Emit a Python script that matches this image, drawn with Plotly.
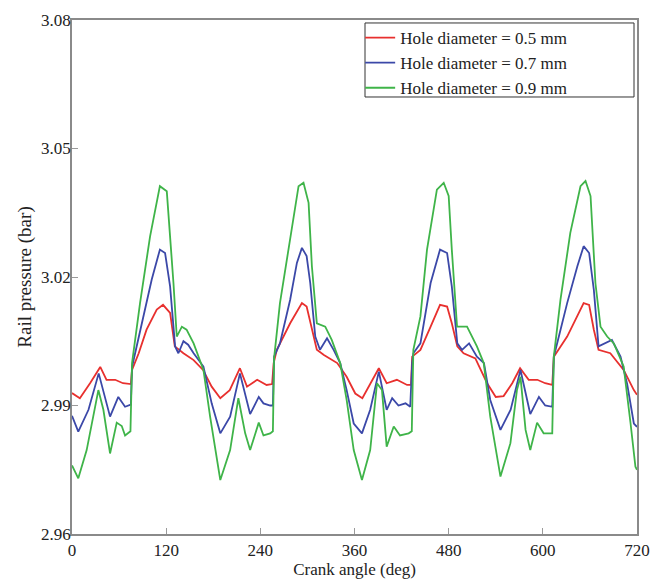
import plotly.graph_objects as go

# ---- data ----
x_05 = [0, 10, 23, 36, 44, 55, 65, 75, 76.5, 85, 95, 108, 116, 125, 131, 142, 155, 167, 178, 189,
        201, 214, 223, 236, 248, 255, 257, 261, 278, 293, 299, 306, 312, 321, 338, 350, 361, 370,
        380, 391, 401, 414, 427, 432, 433.5, 444, 457, 469, 478, 484, 491, 499, 514, 529, 540, 550,
        561, 571, 582, 593, 603, 612, 614, 631, 652, 659, 665, 671, 686, 703, 716, 720]
y_05 = [2.9929, 2.9917, 2.9952, 2.9990, 2.9960, 2.9960, 2.9952, 2.9950, 2.9983, 3.0022, 3.0077,
        3.0124, 3.0135, 3.0116, 3.0038, 3.0022, 3.0006, 2.9983, 2.9944, 2.9917, 2.9936, 2.9987,
        2.9944, 2.9960, 2.9948, 2.9950, 2.9999, 3.0030, 3.0092, 3.0139, 3.0131, 3.0077, 3.0030,
        3.0018, 2.9999, 2.9967, 2.9928, 2.9917, 2.9952, 2.9987, 2.9952, 2.9960, 2.9948, 2.9948,
        3.0014, 3.0030, 3.0084, 3.0135, 3.0131, 3.0092, 3.0038, 3.0022, 3.0010, 2.9952, 2.9920,
        2.9922, 2.9952, 2.9987, 2.9960, 2.9960, 2.9952, 2.9948, 3.0014, 3.0061, 3.0139, 3.0135,
        3.0077, 3.0030, 3.0022, 2.9983, 2.9936, 2.9925]

x_07 = [0, 8, 21, 34, 48.5, 59, 67.6, 75, 76.5, 91, 101.6, 112, 118.6, 125, 131.4, 135.6, 142, 148,
        155, 167.5, 178, 189, 201.5, 214, 227, 238, 244, 252.6, 256, 257.5, 265, 278, 286.6, 293,
        299, 303.6, 310, 316, 325, 333.4, 341.8, 350, 359, 369.5, 380, 391, 401, 408, 416, 425, 431,
        433.5, 435, 444, 452, 457, 469, 478, 484, 491, 497, 506, 516, 525, 533, 546, 559, 571.5, 584,
        595, 603, 612, 614, 631, 644, 652, 659, 665, 671, 680, 688, 699, 707.5, 716, 720]
y_07 = [2.9876, 2.9839, 2.9890, 2.9975, 2.9874, 2.9920, 2.9897, 2.9902, 2.9990, 3.0108, 3.0194,
        3.0264, 3.0256, 3.0178, 3.0038, 3.0022, 3.0050, 3.0042, 3.0022, 2.9991, 2.9905, 2.9835,
        2.9874, 2.9975, 2.9880, 2.9920, 2.9905, 2.9900, 2.9900, 3.0014, 3.0045, 3.0147, 3.0233,
        3.0268, 3.0249, 3.0186, 3.0061, 3.0030, 3.0057, 3.0030, 2.9999, 2.9936, 2.9858, 2.9835,
        2.9890, 2.9979, 2.9890, 2.9917, 2.9900, 2.9905, 2.9897, 3.0000, 3.0022, 3.0045, 3.0131,
        3.0186, 3.0264, 3.0256, 3.0178, 3.0045, 3.0030, 3.0045, 3.0014, 2.9999, 2.9913, 2.9843,
        2.9890, 2.9983, 2.9880, 2.9920, 2.9900, 2.9897, 3.0014, 3.0139, 3.0225, 3.0272, 3.0256,
        3.0170, 3.0038, 3.0045, 3.0053, 3.0014, 2.9950, 2.9858, 2.9850]

x_09 = [0, 8, 18.7, 27, 33.6, 40, 48.5, 57, 63.4, 67.6, 74.5, 76.5, 86.7, 99.5, 112, 120.8, 125,
        129.3, 133.5, 140, 146, 155, 167.5, 176, 189, 201.5, 212, 220.7, 227, 238, 244, 252.6, 256,
        257.5, 265, 278, 288.7, 295, 301.5, 305.7, 312, 322.7, 331, 341.8, 350, 359, 369.5, 380,
        388.7, 395, 401, 410, 418, 429, 433, 435, 444, 452.4, 465, 473.7, 480, 484, 490.7, 503.4,
        516, 524.7, 533, 546, 558.7, 567, 571.5, 578, 584, 592.7, 601, 612, 614, 622.5, 635, 648,
        654.4, 660.8, 667, 673.5, 682, 690.5, 703, 711.8, 718, 720]
y_09 = [2.9760, 2.9730, 2.9796, 2.9874, 2.9936, 2.9890, 2.9788, 2.9860, 2.9852, 2.9830, 2.9840,
        2.9999, 3.0139, 3.0295, 3.0412, 3.0400, 3.0303, 3.0186, 3.0061, 3.0084, 3.0077, 3.0045,
        2.9983, 2.9874, 2.9726, 2.9796, 2.9917, 2.9835, 2.9796, 2.9860, 2.9830, 2.9835, 2.9840,
        3.0010, 3.0139, 3.0288, 3.0412, 3.0420, 3.0373, 3.0225, 3.0092, 3.0084, 3.0053, 2.9999,
        2.9913, 2.9796, 2.9726, 2.9796, 2.9952, 2.9936, 2.9804, 2.9851, 2.9830, 2.9835, 2.9840,
        3.0030, 3.0108, 3.0264, 3.0404, 3.0420, 3.0389, 3.0264, 3.0084, 3.0084, 3.0038, 2.9999,
        2.9874, 2.9734, 2.9812, 2.9936, 2.9967, 2.9843, 2.9796, 2.9860, 2.9835, 2.9835, 3.0014,
        3.0147, 3.0303, 3.0412, 3.0424, 3.0389, 3.0186, 3.0084, 3.0061, 3.0045, 2.9991, 2.9858,
        2.9757, 2.9750]

series_names = ["Hole diameter = 0.5 mm", "Hole diameter = 0.7 mm", "Hole diameter = 0.9 mm"]
series_colors = ["#e8302e", "#3b48a8", "#3fb449"]

x_ticks = [0, 120, 240, 360, 480, 600, 720]
y_ticks = [2.96, 2.99, 3.02, 3.05, 3.08]
y_tick_labels = ["2.96", "2.99", "3.02", "3.05", "3.08"]

FONT = "Liberation Serif, Times New Roman, serif"

fig = go.Figure()
for xs, ys, name, color in zip([x_05, x_07, x_09], [y_05, y_07, y_09], series_names, series_colors):
    fig.add_trace(go.Scatter(x=xs, y=ys, mode="lines", name=name,
                             line=dict(color=color, width=1.8)))

axis_common = dict(showgrid=False, zeroline=False, showline=True, linecolor="#8a8a8a",
                   linewidth=1.5, mirror=True, ticks="inside", ticklen=6, tickcolor="#9a9a9a",
                   tickwidth=1, automargin=False,
                   tickfont=dict(family=FONT, size=17, color="#222"))

fig.update_xaxes(range=[0, 720], tickvals=x_ticks,
                 title=dict(text="Crank angle (deg)", font=dict(family=FONT, size=17, color="#222"),
                            standoff=0),
                 **axis_common)
fig.update_yaxes(range=[2.96, 3.08], tickvals=y_ticks, ticktext=y_tick_labels,
                 ticklabelstandoff=-4,
                 title=dict(text="Rail pressure (bar)", font=dict(family=FONT, size=19, color="#222"),
                            standoff=4),
                 **axis_common)

# legend frame
fig.add_shape(type="rect", xref="paper", yref="paper", x0=0.5186, x1=0.9947, y0=0.8502, y1=0.9942,
              line=dict(color="#333", width=1), fillcolor="white", layer="below")

fig.update_layout(
    width=652, height=582,
    margin=dict(l=72, r=15, t=20, b=48),
    paper_bgcolor="white", plot_bgcolor="white",
    font=dict(family=FONT, size=17, color="#222"),
    legend=dict(x=0.51, y=1.0, xanchor="left", yanchor="top", bgcolor="rgba(0,0,0,0)",
                borderwidth=0, font=dict(family=FONT, size=17, color="#222"),
                itemwidth=30, tracegroupgap=0),
    showlegend=True,
)

fig.write_html("out.html", config={"displayModeBar": False},
               post_script="document.body.style.margin='0';document.body.style.overflow='hidden';")
